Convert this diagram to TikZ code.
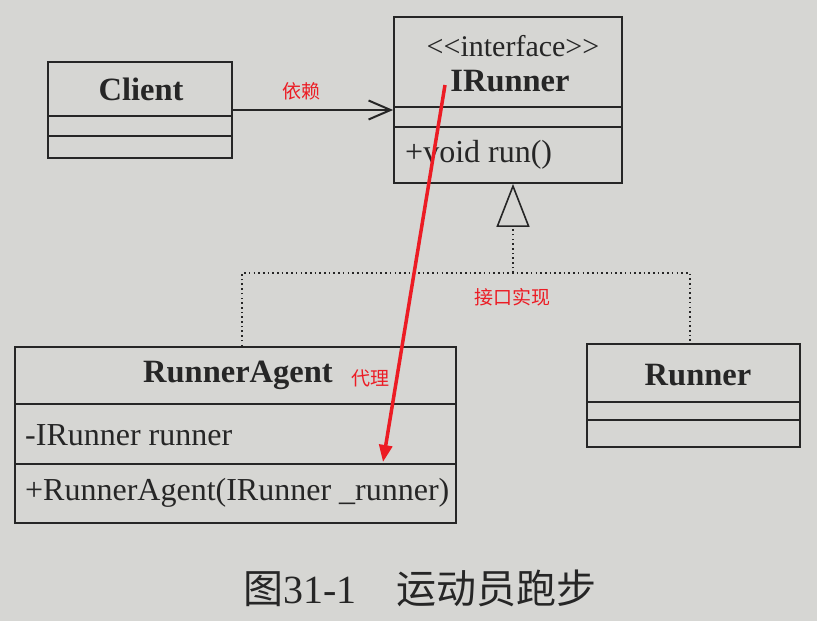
\documentclass[tikz,border=0pt]{standalone}
\usepackage{fontspec}
\setmainfont{Liberation Serif}
\newfontfamily\cjk{Noto Sans CJK SC}
\usetikzlibrary{arrows.meta}
\definecolor{paper}{RGB}{214,214,211}
\definecolor{ink}{RGB}{38,38,38}
\definecolor{pen}{RGB}{236,28,36}
\tikzset{
  classbox/.style={draw=ink, line width=1.8pt, inner sep=0pt},
  title/.style={text=ink, font=\fontsize{32.5}{36}\selectfont\bfseries},
  member/.style={text=ink, anchor=west, inner sep=0pt, font=\fontsize{32}{36}\selectfont},
  note/.style={text=pen, font=\cjk\fontsize{19}{22}\selectfont},
  sep/.style={draw=ink, line width=1.8pt},
  real/.style={draw=ink, line width=1.6pt, dash pattern=on 1.6pt off 3.1pt},
}

\begin{document}
\begin{tikzpicture}[x=1pt, y=-1pt]
  \fill[paper] (0,0) rectangle (817,621);
  \useasboundingbox (0,0) rectangle (817,621);

  % class boxes
  \node[classbox, minimum width=184pt, minimum height=96pt] (client) at (140,110) {};
  \node[classbox, minimum width=228pt, minimum height=166pt] (irunner) at (508,100) {};
  \node[classbox, minimum width=441pt, minimum height=176pt] (runneragent) at (235.5,435) {};
  \node[classbox, minimum width=213pt, minimum height=103pt] (runner) at (693.5,395.5) {};

  % compartments
  \draw[sep] (client.west |- 0,116) -- (client.east |- 0,116);
  \draw[sep] (client.west |- 0,136) -- (client.east |- 0,136);
  \draw[sep] (irunner.west |- 0,107) -- (irunner.east |- 0,107);
  \draw[sep] (irunner.west |- 0,127) -- (irunner.east |- 0,127);
  \draw[sep] (runneragent.west |- 0,404) -- (runneragent.east |- 0,404);
  \draw[sep] (runneragent.west |- 0,464) -- (runneragent.east |- 0,464);
  \draw[sep] (runner.west |- 0,402) -- (runner.east |- 0,402);
  \draw[sep] (runner.west |- 0,420) -- (runner.east |- 0,420);

  % texts
  \node[title] (clientname) at (141,89) {Client};
  \node[text=ink, font=\fontsize{30}{34}\selectfont] (stereo) at (513,46) {<\kern0pt<interface>\kern0pt>};
  \node[title] (irunnername) at (510,81) {IRunner};
  \node[member] (run) at (405,155) {+void run()};
  \node[title] (agentname) at (238,375) {RunnerAgent};
  \node[member] (field) at (25,435) {-IRunner runner};
  \node[member] (ctor) at (25,493) {+RunnerAgent(IRunner \_runner)};
  \node[title] (runnername) at (698,375) {Runner};

  % dependency
  \draw[ink, line width=2pt, -{Straight Barb[length=22pt,width=19pt]}] (client.east) -- (client.east -| irunner.west);
  \node[note] (deplabel) at (301,91) {依赖};

  % realisation
  \coordinate (join) at (513,273);
  \coordinate (agenttop) at (242,273);
  \coordinate (runnertop) at (690,273);
  \draw[real] (agenttop |- runneragent.north) -- (agenttop) -- (runnertop) -- (runnertop |- runner.north);
  \draw[real, -{Triangle[open, length=43pt, width=33pt]}] (join) -- (join |- irunner.south);
  \node[note] (reallabel) at (512,297) {接口实现};

  % proxy mark
  \node[note] (proxylabel) at (370,378) {代理};
  \coordinate (redtop) at (445,85);
  \coordinate (redtip) at (383,462);
  \draw[pen, line width=3.5pt, -{Triangle[length=17pt,width=13pt]}] (redtop) -- (redtip);

  % caption
  \node[text=ink, font=\fontsize{40}{44}\selectfont] (caption) at (420,588) {{\cjk 图}31-1\quad{\cjk 运动员跑步}};
\end{tikzpicture}
\end{document}
